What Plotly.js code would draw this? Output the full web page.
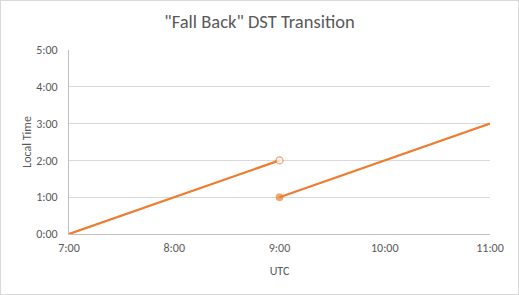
<!DOCTYPE html>
<html>
<head>
<meta charset="utf-8">
<script src="https://cdn.plot.ly/plotly-3.0.1.min.js"></script>
<style>
html,body{margin:0;padding:0;background:#fff;}
#wrap{width:519px;height:295px;box-sizing:border-box;border:1px solid #d9d9d9;}
#chart{width:517px;height:293px;}
</style>
</head>
<body>
<div id="wrap"><div id="chart"></div></div>
<script>
// UTC hours (x) and local time hours (y)
const utcBefore = [7, 9];
const localBefore = [0, 2];
const utcAfter = [9, 11];
const localAfter = [1, 3];
const xTickVals = [7, 8, 9, 10, 11];
const xTickText = ["7:00", "8:00", "9:00", "10:00", "11:00"];
const yTickVals = [0, 1, 2, 3, 4, 5];
const yTickText = ["0:00", "1:00", "2:00", "3:00", "4:00", "5:00"];

const orange = "#ED7D31";
const font = "Carlito, Calibri, 'Liberation Sans', 'Noto Sans', sans-serif";

const traces = [
  {
    x: utcBefore, y: localBefore, mode: "lines+markers", type: "scatter",
    line: {color: orange, width: 2.25},
    marker: {size: [0, 7], color: "#fff", line: {color: orange, width: 1.25}, symbol: "circle"},
    hoverinfo: "skip", showlegend: false
  },
  {
    x: utcAfter, y: localAfter, mode: "lines+markers", type: "scatter",
    line: {color: orange, width: 2.25},
    marker: {size: [7, 0], color: orange, line: {color: orange, width: 1}, symbol: "circle"},
    hoverinfo: "skip", showlegend: false
  }
];

const layout = {
  width: 517, height: 293,
  margin: {l: 68, r: 28, t: 49, b: 60},
  paper_bgcolor: "#fff", plot_bgcolor: "#fff",
  font: {family: font, color: "#595959", size: 12},
  title: {text: "\"Fall Back\" DST Transition", x: 0.5, xref: "container", xanchor: "center",
          y: 0.93, yref: "container", yanchor: "middle",
          font: {size: 18.5, color: "#595959", family: font}},
  xaxis: {
    range: [7, 11], tickvals: xTickVals, ticktext: xTickText,
    showgrid: false, zeroline: false, showline: true, linecolor: "#bfbfbf", linewidth: 1,
    ticks: "outside", ticklen: 3, tickcolor: "rgba(0,0,0,0)", tickfont: {size: 12, color: "#595959"},
    title: {text: "UTC", font: {size: 12, color: "#595959"}, standoff: 12},
    fixedrange: true
  },
  yaxis: {
    range: [0, 5], tickvals: yTickVals, ticktext: yTickText,
    showgrid: true, gridcolor: "#d9d9d9", gridwidth: 1, zeroline: false,
    showline: true, linecolor: "#bfbfbf", linewidth: 1,
    ticks: "outside", ticklen: 8, tickcolor: "rgba(0,0,0,0)", tickfont: {size: 12, color: "#595959"},
    title: {text: "Local Time", font: {size: 12, color: "#595959"}, standoff: 1},
    fixedrange: true
  }
};

Plotly.newPlot("chart", traces, layout, {displayModeBar: false, staticPlot: true});
</script>
</body>
</html>
